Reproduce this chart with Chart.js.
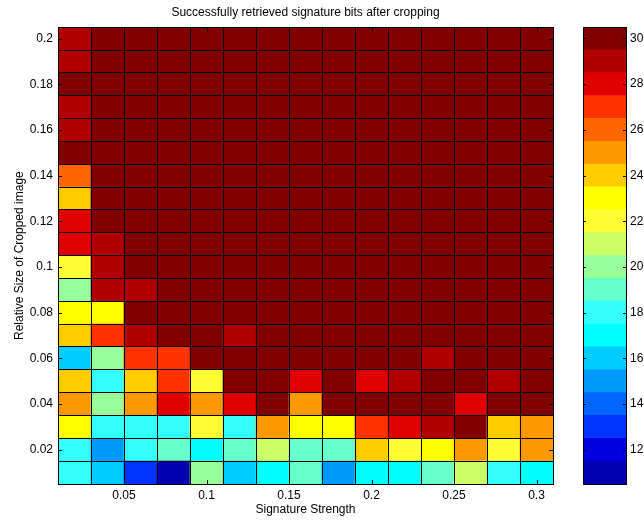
<!DOCTYPE html>
<html lang="en">
<head>
    <meta charset="UTF-8">
    <title>Successfully retrieved signature bits after cropping</title>
    <style>
        body {
            margin: 0;
            background-color: #fff;
        }
        #wrap {
            position: relative;
            width: 644px;
            height: 520px;
        }
        #heatmap {
            position: absolute;
            left: 0;
            top: 0;
        }
        #colorbar {
            position: absolute;
            left: 575px;
            top: 0;
        }
    </style>
    <script src="https://cdn.jsdelivr.net/npm/chart.js"></script>
</head>
<body>
    <div id="wrap">
        <canvas id="heatmap" width="575" height="520"></canvas>
        <canvas id="colorbar" width="69" height="520"></canvas>
    </div>
    <script>
        // Signature strength (columns) and relative crop size (rows, top to bottom)
        const strengths = [0.02, 0.04, 0.06, 0.08, 0.10, 0.12, 0.14, 0.16, 0.18, 0.20, 0.22, 0.24, 0.26, 0.28, 0.30];
        const sizes = [0.20, 0.19, 0.18, 0.17, 0.16, 0.15, 0.14, 0.13, 0.12, 0.11, 0.10, 0.09, 0.08, 0.07, 0.06, 0.05, 0.04, 0.03, 0.02, 0.01];

        // Retrieved bits, one row per crop size (same order as sizes)
        const bits = [
            [29, 30, 30, 30, 30, 30, 30, 30, 30, 30, 30, 30, 30, 30, 30],
            [29, 30, 30, 30, 30, 30, 30, 30, 30, 30, 30, 30, 30, 30, 30],
            [30, 30, 30, 30, 30, 30, 30, 30, 30, 30, 30, 30, 30, 30, 30],
            [29, 30, 30, 30, 30, 30, 30, 30, 30, 30, 30, 30, 30, 30, 30],
            [29, 30, 30, 30, 30, 30, 30, 30, 30, 30, 30, 30, 30, 30, 30],
            [30, 30, 30, 30, 30, 30, 30, 30, 30, 30, 30, 30, 30, 30, 30],
            [26, 30, 30, 30, 30, 30, 30, 30, 30, 30, 30, 30, 30, 30, 30],
            [24, 30, 30, 30, 30, 30, 30, 30, 30, 30, 30, 30, 30, 30, 30],
            [28, 30, 30, 30, 30, 30, 30, 30, 30, 30, 30, 30, 30, 30, 30],
            [28, 29, 30, 30, 30, 30, 30, 30, 30, 30, 30, 30, 30, 30, 30],
            [22, 29, 30, 30, 30, 30, 30, 30, 30, 30, 30, 30, 30, 30, 30],
            [20, 29, 29, 30, 30, 30, 30, 30, 30, 30, 30, 30, 30, 30, 30],
            [23, 23, 30, 30, 30, 30, 30, 30, 30, 30, 30, 30, 30, 30, 30],
            [24, 27, 29, 30, 30, 29, 30, 30, 30, 30, 30, 30, 30, 30, 30],
            [16, 20, 27, 27, 30, 30, 30, 30, 30, 30, 30, 29, 30, 30, 30],
            [24, 18, 24, 27, 22, 30, 30, 28, 30, 28, 29, 30, 30, 29, 30],
            [25, 20, 25, 28, 25, 28, 30, 25, 30, 30, 30, 30, 28, 30, 30],
            [23, 18, 18, 18, 22, 18, 25, 23, 23, 27, 28, 29, 30, 24, 25],
            [18, 15, 18, 19, 17, 19, 21, 19, 19, 24, 22, 23, 25, 22, 25],
            [18, 16, 13, 11, 20, 16, 17, 19, 15, 17, 17, 19, 21, 18, 17]
        ];

        const xTicks = [0.05, 0.1, 0.15, 0.2, 0.25, 0.3];
        const yTicks = [0.02, 0.04, 0.06, 0.08, 0.1, 0.12, 0.14, 0.16, 0.18, 0.2];

        // Colour levels of the colorbar, top to bottom
        const levels = [30, 29, 28, 27, 26, 25, 24, 23, 22, 21, 20, 19, 18, 17, 16, 15, 14, 13, 12, 11];
        const levelColors = ['#800000', '#b00000', '#e00000', '#ff3300', '#ff6600', '#ff9900', '#ffcc00', '#ffff00', '#ffff33', '#ccff66',
                             '#99ff99', '#66ffcc', '#33ffff', '#00ffff', '#00ccff', '#0099ff', '#0066ff', '#0033ff', '#0000e0', '#0000b0'];
        const barTicks = [30, 28, 26, 24, 22, 20, 18, 16, 14, 12];

        const halfCellX = 0.01;
        const halfCellY = 0.005;

        Chart.defaults.font.family = "'Liberation Sans', Arial, sans-serif";
        Chart.defaults.font.size = 12;
        Chart.defaults.color = '#000';

        const colorFor = v => levelColors[levels.indexOf(v)];
        const fmt = v => String(+v.toFixed(3));

        // one floating bar per cell
        const cells = [];
        sizes.forEach((s, i) => {
            strengths.forEach((x, j) => {
                cells.push({ x: x, y: [s - halfCellY, s + halfCellY], v: bits[i][j] });
            });
        });

        const xEdges = strengths.map(v => v - halfCellX).concat([strengths[strengths.length - 1] + halfCellX]);
        const yEdges = sizes.map(v => v + halfCellY).concat([sizes[sizes.length - 1] - halfCellY]);

        // small tick marks pointing into the plot, plus the box
        const innerTicks = {
            id: 'innerTicks',
            afterDraw(chart, args, opts) {
                const { ctx, chartArea: a, scales } = chart;
                const len = opts.length;
                ctx.save();
                ctx.strokeStyle = '#000';
                ctx.lineWidth = 1;
                ctx.beginPath();
                (opts.xValues || []).forEach(v => {
                    const px = Math.round(scales[opts.xAxis].getPixelForValue(v)) + 0.5;
                    ctx.moveTo(px, a.top);
                    ctx.lineTo(px, a.top + len);
                    ctx.moveTo(px, a.bottom);
                    ctx.lineTo(px, a.bottom - len);
                });
                (opts.yValues || []).forEach(v => {
                    const py = Math.round(scales[opts.yAxis].getPixelForValue(v)) + 0.5;
                    ctx.moveTo(a.left, py);
                    ctx.lineTo(a.left + len, py);
                    ctx.moveTo(a.right, py);
                    ctx.lineTo(a.right - len, py);
                });
                ctx.stroke();
                ctx.strokeRect(Math.round(a.left) + 0.5, Math.round(a.top) + 0.5, Math.round(a.width), Math.round(a.height));
                ctx.restore();
            }
        };

        new Chart(document.getElementById('heatmap'), {
            type: 'bar',
            data: {
                datasets: [{
                    data: cells,
                    xAxisID: 'x',
                    yAxisID: 'y',
                    backgroundColor: ctx => colorFor(ctx.raw.v),
                    borderWidth: 0,
                    barPercentage: 1,
                    categoryPercentage: 1
                }]
            },
            options: {
                responsive: false,
                animation: false,
                events: [],
                layout: { padding: { left: 0, right: 22, top: 0, bottom: 0 } },
                scales: {
                    x: {
                        type: 'linear',
                        position: 'bottom',
                        min: 0.01,
                        max: 0.31,
                        offset: false,
                        afterBuildTicks: s => { s.ticks = xTicks.map(v => ({ value: v })); },
                        afterFit: s => { s.height = 36; },
                        grid: { display: false, drawTicks: false, offset: false },
                        border: { display: false },
                        ticks: { padding: 4, maxRotation: 0, autoSkip: false, callback: fmt },
                        title: { display: true, text: 'Signature Strength', padding: { top: 0, bottom: 3 } }
                    },
                    xg: {
                        type: 'linear',
                        position: 'bottom',
                        min: 0.01,
                        max: 0.31,
                        offset: false,
                        afterBuildTicks: s => { s.ticks = xEdges.map(v => ({ value: v })); },
                        afterFit: s => { s.height = 0; },
                        grid: { color: '#000', lineWidth: 1, drawTicks: false, offset: false, z: 1 },
                        border: { display: false },
                        ticks: { display: false }
                    },
                    y: {
                        type: 'linear',
                        position: 'left',
                        min: 0.005,
                        max: 0.205,
                        afterBuildTicks: s => { s.ticks = yTicks.map(v => ({ value: v })); },
                        afterFit: s => { s.width = 58; },
                        grid: { display: false, drawTicks: false },
                        border: { display: false },
                        ticks: { padding: 5, autoSkip: false, callback: fmt },
                        title: { display: true, text: 'Relative Size of Cropped image', padding: { top: 12, bottom: 0 } }
                    },
                    yg: {
                        type: 'linear',
                        position: 'left',
                        min: 0.005,
                        max: 0.205,
                        afterBuildTicks: s => { s.ticks = yEdges.map(v => ({ value: v })); },
                        afterFit: s => { s.width = 0; },
                        grid: { color: '#000', lineWidth: 1, drawTicks: false, z: 1 },
                        border: { display: false },
                        ticks: { display: false }
                    }
                },
                plugins: {
                    legend: { display: false },
                    tooltip: { enabled: false },
                    title: {
                        display: true,
                        text: 'Successfully retrieved signature bits after cropping',
                        fullSize: false,
                        font: { size: 12, weight: 'normal' },
                        padding: { top: 5.5, bottom: 7.4 }
                    },
                    innerTicks: { length: 4, xAxis: 'x', yAxis: 'y', xValues: xTicks, yValues: yTicks }
                }
            },
            plugins: [innerTicks]
        });

        // colorbar: one bar per level
        new Chart(document.getElementById('colorbar'), {
            type: 'bar',
            data: {
                labels: levels,
                datasets: [{
                    data: levels.map(() => 1),
                    backgroundColor: levelColors,
                    borderWidth: 0,
                    barPercentage: 1,
                    categoryPercentage: 1
                }]
            },
            options: {
                indexAxis: 'y',
                responsive: false,
                animation: false,
                events: [],
                layout: { padding: { left: 8, right: 0, top: 27, bottom: 36 } },
                scales: {
                    x: { type: 'linear', min: 0, max: 1, display: false },
                    y: {
                        type: 'category',
                        position: 'right',
                        afterFit: s => { s.width = 18; },
                        grid: { display: false, drawTicks: false },
                        border: { display: false },
                        ticks: {
                            padding: 4,
                            autoSkip: false,
                            callback: (v, i) => barTicks.includes(levels[i]) ? String(levels[i]) : ''
                        }
                    }
                },
                plugins: {
                    legend: { display: false },
                    tooltip: { enabled: false },
                    innerTicks: { length: 3, yAxis: 'y', yValues: barTicks.map(t => levels.indexOf(t)) }
                }
            },
            plugins: [innerTicks]
        });
    </script>
</body>
</html>
